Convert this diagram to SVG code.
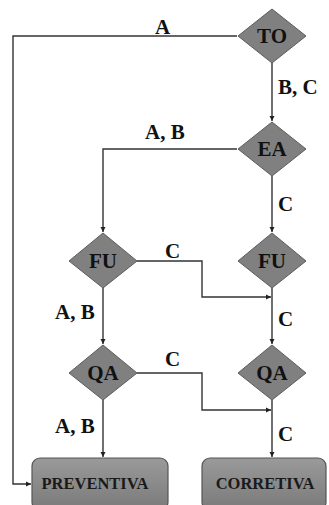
<svg xmlns="http://www.w3.org/2000/svg" width="329" height="505" viewBox="0 0 329 505">
<style>
.d{fill:#808080;stroke:#5c5c5c;stroke-width:1}
.b{fill:url(#g);stroke:#555;stroke-width:1.2}
.t{font-family:"Liberation Serif","Times New Roman",serif;font-weight:bold;font-size:21px;fill:#111;text-anchor:middle}
.bt{font-family:"Liberation Serif","Times New Roman",serif;font-weight:bold;font-size:16.5px;fill:#1a1a1a;text-anchor:middle}
.l{font-family:"Liberation Serif","Times New Roman",serif;font-weight:bold;font-size:21px;fill:#111}
.c{fill:none;stroke:#333;stroke-width:1.4}
</style>
<defs>
<linearGradient id="g" x1="0" y1="0" x2="0" y2="1"><stop offset="0" stop-color="#9a9a9a"/><stop offset="1" stop-color="#7a7a7a"/></linearGradient>
<marker id="a" markerWidth="6" markerHeight="6" refX="5" refY="3" orient="auto" markerUnits="userSpaceOnUse"><path d="M0,0.5 L5,3 L0,5.5 Z" fill="#222"/></marker>
</defs>
<g id="connectors">
<path class="c" d="M237,36 H13 V484 H31" marker-end="url(#a)"/>
<path class="c" d="M272,63 V121" marker-end="url(#a)"/>
<path class="c" d="M237,149 H103 V232" marker-end="url(#a)"/>
<path class="c" d="M272,176 V232" marker-end="url(#a)"/>
<path class="c" d="M137,261 H202 V297 H271" marker-end="url(#a)"/>
<path class="c" d="M103,288 V344" marker-end="url(#a)"/>
<path class="c" d="M272,288 V344" marker-end="url(#a)"/>
<path class="c" d="M137,373 H202 V410 H271" marker-end="url(#a)"/>
<path class="c" d="M103,400 V457" marker-end="url(#a)"/>
<path class="c" d="M272,400 V457" marker-end="url(#a)"/>
<text class="l" x="155" y="34">A</text>
<text class="l" x="278" y="94">B, C</text>
<text class="l" x="145" y="139">A, B</text>
<text class="l" x="278" y="211">C</text>
<text class="l" x="165" y="258">C</text>
<text class="l" x="55" y="319">A, B</text>
<text class="l" x="278" y="326">C</text>
<text class="l" x="165" y="366">C</text>
<text class="l" x="55" y="433">A, B</text>
<text class="l" x="278" y="441">C</text>
</g>
<g id="TO"><path class="d" d="M272,9 L306,36 L272,63 L238,36 Z"/><text class="t" x="272" y="43">TO</text></g>
<g id="EA"><path class="d" d="M272,122 L306,149 L272,176 L238,149 Z"/><text class="t" x="272" y="156">EA</text></g>
<g id="FU1"><path class="d" d="M103,233 L137,261 L103,288 L69,261 Z"/><text class="t" x="103" y="268">FU</text></g>
<g id="FU2"><path class="d" d="M272,233 L306,261 L272,288 L238,261 Z"/><text class="t" x="272" y="268">FU</text></g>
<g id="QA1"><path class="d" d="M103,345 L137,373 L103,400 L69,373 Z"/><text class="t" x="103" y="380">QA</text></g>
<g id="QA2"><path class="d" d="M272,345 L306,373 L272,400 L238,373 Z"/><text class="t" x="272" y="380">QA</text></g>
<g id="PREVENTIVA"><rect class="b" x="32" y="458" width="136" height="52" rx="8"/><text class="bt" x="95" y="489">PREVENTIVA</text></g>
<g id="CORRETIVA"><rect class="b" x="202" y="458" width="124" height="52" rx="8"/><text class="bt" x="265" y="489">CORRETIVA</text></g>
</svg>
